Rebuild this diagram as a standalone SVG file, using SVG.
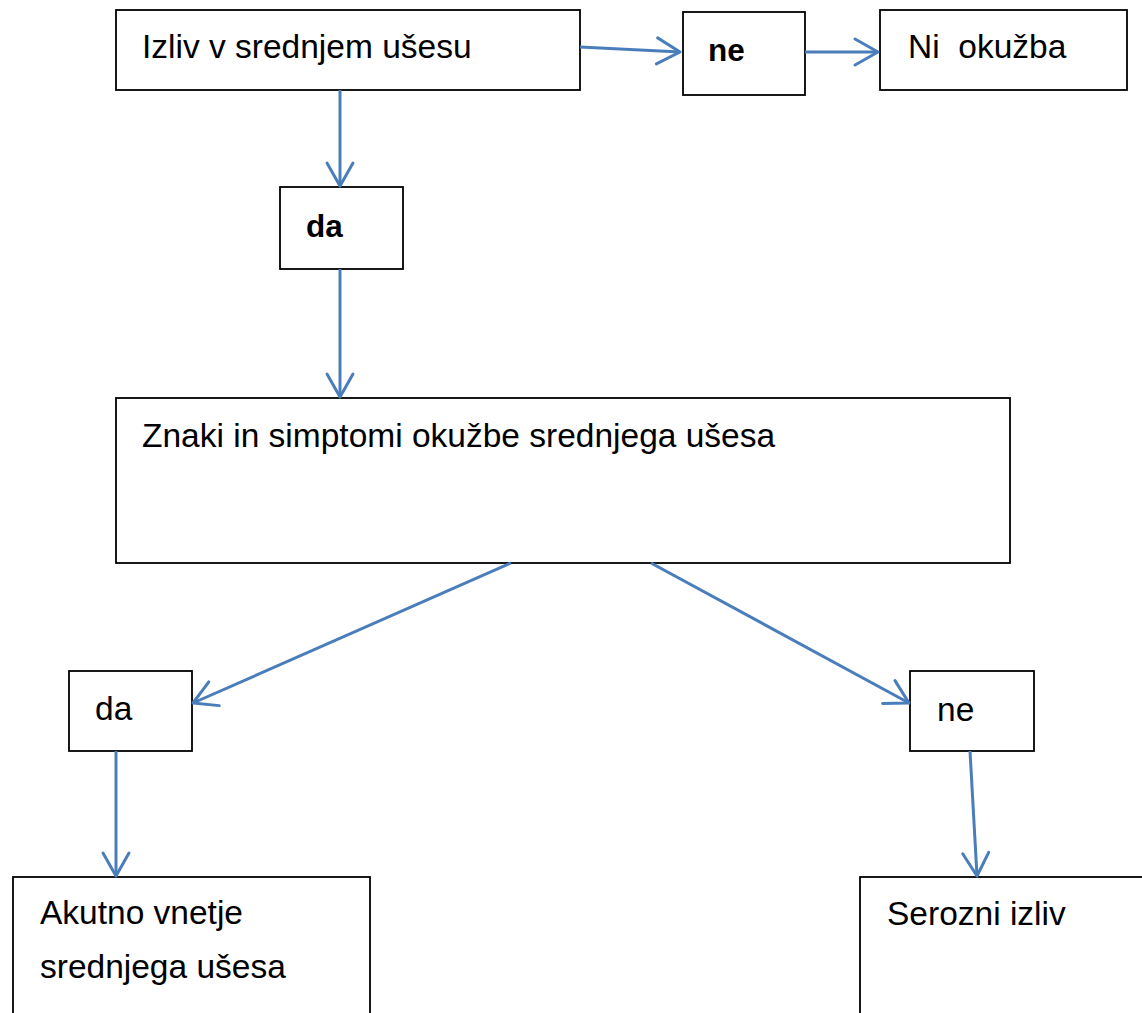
<svg xmlns="http://www.w3.org/2000/svg" width="1142" height="1013" viewBox="0 0 1142 1013">
<style>
.box{fill:#fff;stroke:#000;stroke-width:1.8}
.t{font-family:"Liberation Sans",Arial,sans-serif;font-size:33.5px;fill:#000}
.b{font-weight:bold;font-size:31.5px}
.c{fill:none;stroke:#4a7ebb;stroke-width:3}
</style>
<defs>
<marker id="ah" markerUnits="userSpaceOnUse" markerWidth="30" markerHeight="32" refX="24" refY="14" orient="auto" overflow="visible">
<path d="M1,1 L24,14 L1,27" fill="none" stroke="#4a7ebb" stroke-width="3" stroke-linecap="round" stroke-linejoin="round"/>
</marker>
</defs>
<rect width="1142" height="1013" fill="#fff"/>
<g id="n1"><rect class="box" x="116" y="10" width="464" height="80"/><text class="t" x="142" y="58">Izliv v srednjem ušesu</text></g>
<g id="n2"><rect class="box" x="683" y="12" width="122" height="83"/><text class="t b" x="708" y="61">ne</text></g>
<g id="n3"><rect class="box" x="880" y="10" width="247" height="80"/><text class="t" x="908" y="58" xml:space="preserve">Ni  okužba</text></g>
<g id="n4"><rect class="box" x="280" y="187" width="123" height="82"/><text class="t b" x="306" y="237">da</text></g>
<g id="n5"><rect class="box" x="116" y="398" width="894" height="165"/><text class="t" x="142" y="447">Znaki in simptomi okužbe srednjega ušesa</text></g>
<g id="n6"><rect class="box" x="69" y="671" width="123" height="80"/><text class="t" x="95" y="720">da</text></g>
<g id="n7"><rect class="box" x="910" y="671" width="124" height="80"/><text class="t" x="937" y="721">ne</text></g>
<g id="n8"><rect class="box" x="13" y="877" width="357" height="150"/><text class="t" x="40" y="924">Akutno vnetje</text><text class="t" x="40" y="978">srednjega ušesa</text></g>
<g id="n9"><rect class="box" x="860" y="877" width="300" height="150"/><text class="t" x="887" y="925">Serozni izliv</text></g>
<g id="connectors">
<line class="c" x1="580" y1="47" x2="680" y2="52" marker-end="url(#ah)"/>
<line class="c" x1="805" y1="52" x2="878" y2="52" marker-end="url(#ah)"/>
<line class="c" x1="340" y1="90" x2="340" y2="186" marker-end="url(#ah)"/>
<line class="c" x1="340" y1="269" x2="340" y2="397" marker-end="url(#ah)"/>
<line class="c" x1="511" y1="563" x2="193" y2="703" marker-end="url(#ah)"/>
<line class="c" x1="651" y1="563" x2="909" y2="703" marker-end="url(#ah)"/>
<line class="c" x1="116" y1="751" x2="116" y2="876" marker-end="url(#ah)"/>
<line class="c" x1="970" y1="751" x2="977" y2="876" marker-end="url(#ah)"/>
</g>
</svg>
